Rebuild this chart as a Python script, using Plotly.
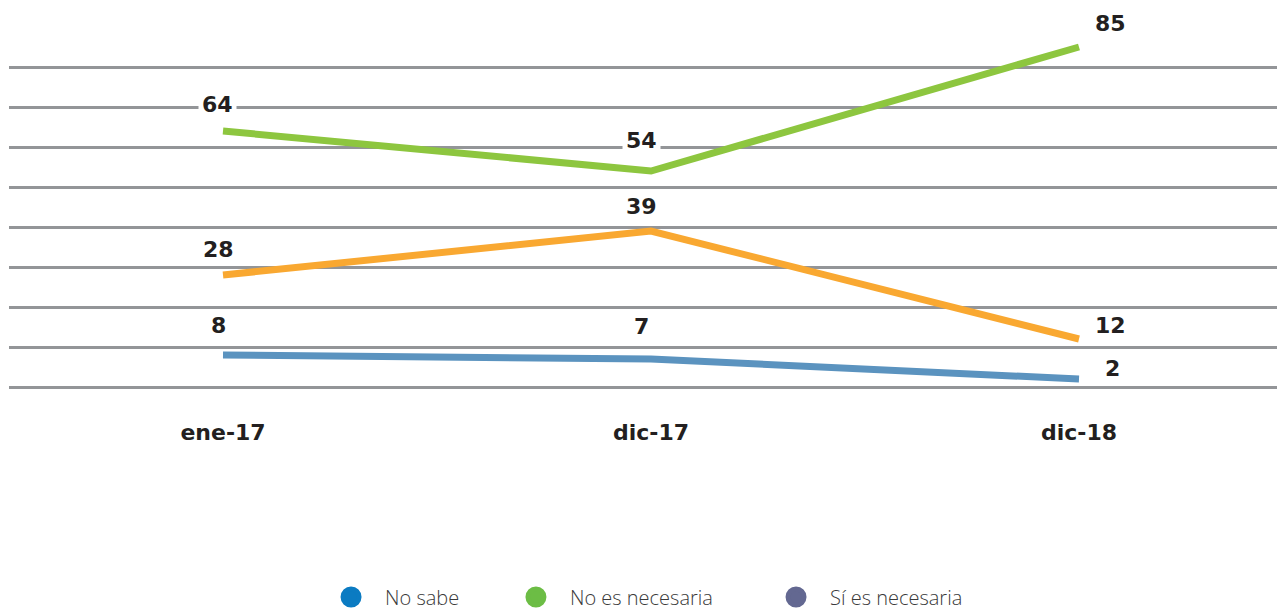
import plotly.graph_objects as go

# ---- data ----
categories = ["ene-17", "dic-17", "dic-18"]
no_es_necesaria = [64, 54, 85]
si_es_necesaria = [28, 39, 12]
no_sabe = [8, 7, 2]

legend_names = ["No sabe", "No es necesaria", "Sí es necesaria"]

# ---- style ----
line_colors = {"no_es": "#8dc63f", "si_es": "#f9a831", "no_sabe": "#5b93bf"}
legend_colors = ["#0b7bc2", "#6cbd45", "#636891"]
legend_x = [0.2405, 0.3844, 0.5868]
text_color = "#231f20"
label_font = dict(family="DejaVu Sans", size=22, color=text_color, weight="bold")

# per-point label offsets (xshift, yshift) in px
offs_green = [(-6, 27), (-10, 31), (31, 24)]
offs_orange = [(-5, 26), (-10, 25), (31, 14)]
offs_blue = [(-5, 30), (-10, 33), (33, 11)]

fig = go.Figure()

series = [
    (no_es_necesaria, line_colors["no_es"], offs_green),
    (si_es_necesaria, line_colors["si_es"], offs_orange),
    (no_sabe, line_colors["no_sabe"], offs_blue),
]

for vals, col, offs in series:
    fig.add_trace(go.Scatter(
        x=categories, y=vals, mode="lines",
        line=dict(color=col, width=7),
        showlegend=False, hoverinfo="skip",
    ))
    for c, v, (dx, dy) in zip(categories, vals, offs):
        fig.add_annotation(
            x=c, y=v, text=str(v), showarrow=False,
            xshift=dx, yshift=dy, font=label_font,
            bgcolor="white", borderpad=3,
        )

legend_ids = ["legend", "legend2", "legend3"]
for name, col, lid in zip(legend_names, legend_colors, legend_ids):
    fig.add_trace(go.Scatter(
        x=[None], y=[None], mode="markers", name=name,
        marker=dict(size=16, color=col, line=dict(width=5, color=col)),
        legend=lid, showlegend=True,
    ))

legend_common = dict(
    orientation="h", xref="container", yref="container",
    xanchor="left", yanchor="middle", y=0.036,
    font=dict(family="Open Sans", size=20, color="#3a3a3a", weight=300),
    itemwidth=58, bgcolor="rgba(0,0,0,0)",
)

fig.update_layout(
    width=1285, height=611,
    paper_bgcolor="white", plot_bgcolor="white",
    margin=dict(l=1, r=0, t=32, b=219, autoexpand=False),
    xaxis=dict(
        type="category", range=[-0.5, 2.5], showgrid=False, zeroline=False,
        showline=False, ticks="", ticklabelstandoff=17,
        tickfont=dict(family="DejaVu Sans", size=22, color=text_color, weight="bold"),
    ),
    yaxis=dict(
        range=[-3.25, 86.75], dtick=10, tick0=0, showgrid=True,
        gridcolor="#939598", gridwidth=2.5, zeroline=False,
        showticklabels=False, showline=False, ticks="",
    ),
    legend=dict(x=legend_x[0], **legend_common),
    legend2=dict(x=legend_x[1], **legend_common),
    legend3=dict(x=legend_x[2], **legend_common),
)

fig.write_html("out.html")
